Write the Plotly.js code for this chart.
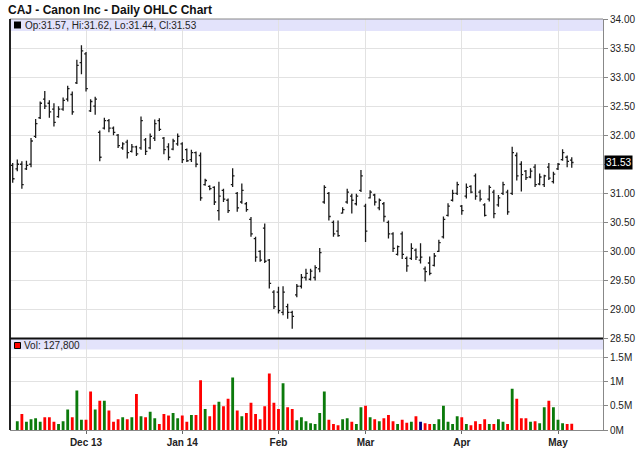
<!DOCTYPE html>
<html>
<head>
<meta charset="utf-8">
<script src="https://cdn.plot.ly/plotly-3.0.1.min.js"></script>
<style>html,body{margin:0;padding:0;background:#fff;}#chart{width:640px;height:468px;}</style>
</head>
<body>
<div id="chart"></div>
<script>
// ---- Data ----
const tickIndex = [16, 37, 58, 77, 98, 119];
const tickLabels = ['Dec 13', 'Jan 14', 'Feb', 'Mar', 'Apr', 'May'];
const priceTicks = [28.5, 29, 29.5, 30, 30.5, 31, 31.5, 32, 32.5, 33, 33.5, 34];

const openP = [
31.48,31.42,31.50,31.42,31.50,31.98,32.30,32.62,32.55,32.45,
32.32,32.45,32.62,32.70,32.90,33.25,33.40,32.42,32.50,32.05,
32.12,32.25,32.12,32.00,31.78,31.88,31.72,31.80,31.78,31.92,
31.78,31.95,32.25,31.95,31.80,31.76,31.85,31.85,31.75,31.58,
31.70,31.65,31.15,31.12,31.10,30.70,31.05,30.88,31.15,31.00,
30.85,30.82,30.55,30.22,30.00,30.40,29.85,29.30,29.30,28.95,
29.05,28.95,29.25,29.40,29.55,29.52,29.55,29.70,30.85,31.00,
30.50,30.35,30.66,30.85,30.95,30.82,31.05,30.78,30.92,30.97,
30.75,30.82,30.50,30.30,29.95,30.30,29.88,29.88,30.02,29.85,
29.70,29.80,29.76,30.00,30.25,30.62,30.88,31.00,30.78,30.95,
31.12,31.30,31.02,30.80,30.90,31.02,30.80,31.00,31.02,31.00,
31.65,31.50,31.38,31.28,31.45,31.16,31.15,31.45,31.20,31.42,
31.58,31.62,31.57];
const highP = [
31.52,31.58,31.55,31.56,31.95,32.28,32.58,32.76,32.60,32.55,
32.50,32.65,32.85,32.75,33.30,33.55,33.43,32.62,32.66,32.08,
32.30,32.28,32.15,32.02,31.88,31.92,31.85,31.82,32.32,31.95,
32.03,32.27,32.29,31.97,31.86,31.94,32.03,31.88,31.77,31.75,
31.72,31.70,31.25,31.14,31.12,31.20,31.08,30.91,31.43,31.02,
31.17,30.85,30.59,30.25,30.02,30.48,29.87,29.33,29.39,29.40,
29.10,28.98,29.44,29.61,29.70,29.70,29.76,30.06,31.14,31.02,
30.53,30.53,30.76,31.08,30.99,30.99,31.40,30.82,31.05,30.99,
30.91,30.85,30.53,30.33,30.10,30.34,29.91,30.14,30.05,30.14,
29.74,29.91,29.97,30.20,30.60,30.83,31.06,31.20,30.80,31.17,
31.14,31.34,31.06,30.83,31.14,31.06,30.97,31.20,31.06,31.80,
31.70,31.55,31.40,31.43,31.50,31.34,31.32,31.52,31.37,31.52,
31.76,31.65,31.62];
const lowP = [
31.18,31.38,31.08,31.40,31.45,31.95,32.28,32.45,32.30,32.15,
32.30,32.42,32.58,32.35,32.88,33.05,32.75,32.40,32.35,31.55,
32.10,32.05,32.00,31.78,31.75,31.60,31.70,31.64,31.75,31.66,
31.76,31.90,32.07,31.67,31.57,31.74,31.82,31.52,31.54,31.54,
31.45,30.87,31.13,31.05,30.80,30.53,30.85,30.66,31.11,30.68,
30.82,30.68,30.25,29.82,29.82,29.80,29.36,29.01,28.93,28.90,
28.84,28.67,29.21,29.36,29.50,29.50,29.50,29.64,30.82,30.53,
30.25,30.25,30.65,30.82,30.65,30.79,31.02,30.16,30.91,30.79,
30.71,30.51,30.22,29.99,29.93,29.87,29.65,29.85,29.85,29.79,
29.48,29.59,29.74,29.99,30.22,30.60,30.86,30.97,30.63,30.91,
31.00,30.89,30.86,30.60,30.86,30.57,30.77,30.97,30.63,30.97,
31.22,31.03,31.23,31.26,31.11,31.14,31.11,31.23,31.17,31.40,
31.56,31.45,31.44];
const closeP = [
31.25,31.50,31.15,31.48,31.90,32.20,32.55,32.50,32.40,32.22,
32.45,32.60,32.80,32.40,33.20,33.45,32.80,32.58,32.62,31.62,
32.25,32.12,32.05,31.82,31.85,31.70,31.80,31.68,32.25,31.72,
31.98,32.20,32.10,31.75,31.62,31.90,31.98,31.58,31.56,31.70,
31.50,30.92,31.22,31.08,30.85,30.95,30.90,30.70,31.30,30.75,
31.05,30.72,30.30,29.90,29.85,29.83,29.45,29.05,28.98,29.30,
28.95,28.88,29.40,29.55,29.62,29.66,29.72,29.98,31.10,30.60,
30.30,30.27,30.72,31.02,30.88,30.95,31.30,30.35,31.02,30.85,
30.88,30.60,30.30,30.05,30.08,29.95,29.75,30.05,29.90,29.90,
29.65,29.62,29.92,30.15,30.55,30.78,31.00,31.15,30.70,31.10,
31.02,30.95,30.90,30.62,31.10,30.65,30.92,31.15,30.68,31.70,
31.30,31.32,31.27,31.38,31.15,31.28,31.30,31.26,31.33,31.50,
31.70,31.55,31.53];
// volume in thousands of shares (first day has no volume bar)
const volumeK = [
null,180,330,170,220,240,170,260,260,170,125,
180,420,260,810,210,210,790,420,600,600,
400,170,220,260,220,260,740,280,260,375,
240,125,330,300,350,240,300,170,310,310,
1020,430,280,520,580,490,640,1080,400,280,
350,560,330,220,490,1160,560,430,960,470,
430,200,260,180,140,125,350,790,210,125,
100,220,240,170,125,470,500,260,220,180,
240,310,180,125,210,150,170,280,170,140,
125,125,220,500,170,125,280,260,125,100,
180,125,220,125,125,220,170,125,850,640,
240,240,170,180,140,470,600,470,210,140,
125,127.8];
// day-over-day change sign shown by volume bar colour: 1 up, -1 down, 0 unchanged
const changeSign = [
0, 1,-1, 1, 1, 1, 1,-1,-1,-1, 1,
 1, 1,-1, 1, 1,-1,-1, 1,-1, 1,
-1,-1,-1, 1,-1, 1,-1, 1,-1, 1,
 1,-1,-1,-1, 1, 1,-1,-1, 1,-1,
-1, 1,-1,-1, 1,-1,-1, 1,-1, 1,
-1,-1,-1,-1,-1,-1,-1,-1, 1,-1,
-1, 1, 1, 1, 1, 1, 1, 1,-1,-1,
-1, 1, 1,-1, 1, 1,-1, 1,-1, 1,
-1,-1,-1, 1,-1,-1, 1,-1, 0,-1,
-1, 1, 1, 1, 1, 1, 1,-1, 1,-1,
-1,-1,-1, 1,-1, 1, 1,-1, 1,-1,
-1,-1, 1,-1, 1, 1,-1, 1, 1, 1,
-1,-1];

// ---- Build chart ----
const xIdx = openP.map((_, i) => i);
const signColor = s => s > 0 ? '#0b7a0b' : (s < 0 ? '#ff0000' : '#000080');
const last = openP.length - 1;
const f2 = v => v.toFixed(2);
const legendText = 'Op:' + f2(openP[last]) + ', Hi:' + f2(highP[last]) + ', Lo:' + f2(lowP[last]) + ', Cl:' + f2(closeP[last]);
const volText = 'Vol: ' + Math.round(volumeK[last] * 1000).toLocaleString('en-US');
// the last-price flag covers the tick label next to it (as in the reference)
const priceTickText = priceTicks.map(v => Math.abs(v - closeP[last]) < 0.15 ? '' : f2(v));

const ohlc = {
  type: 'ohlc', x: xIdx, open: openP, high: highP, low: lowP, close: closeP,
  xaxis: 'x', yaxis: 'y', tickwidth: 0.4,
  increasing: {line: {color: '#1a1a1a', width: 1.3}},
  decreasing: {line: {color: '#1a1a1a', width: 1.3}},
  hoverinfo: 'skip'
};
const vol = {
  type: 'bar', x: xIdx, y: volumeK, xaxis: 'x2', yaxis: 'y2',
  marker: {color: changeSign.map(signColor), line: {width: 0}},
  width: 0.62, hoverinfo: 'skip'
};

const xr = [-0.59, 128.82];
const grid = '#e2e2e2';
const font = 'Liberation Sans, Arial, sans-serif';
const priceDomain = [0.2226, 1];
const volDomain = [0, 0.2226];

const layout = {
  width: 640, height: 468,
  margin: {l: 10, r: 37, t: 19, b: 38},
  paper_bgcolor: '#fff', plot_bgcolor: '#fff',
  showlegend: false,
  font: {family: font, size: 10, color: '#222'},
  title: {text: 'CAJ - Canon Inc - Daily OHLC Chart', x: 0.0125, xanchor: 'left', y: 0.979, yanchor: 'middle',
          font: {family: font, size: 12, weight: 'bold', color: '#111'}},
  xaxis: {domain: [0, 1], range: xr, anchor: 'y', tickmode: 'array', tickvals: tickIndex, showticklabels: false,
          ticks: '', showgrid: true, gridcolor: grid, zeroline: false, showline: false, rangeslider: {visible: false}},
  xaxis2: {domain: [0, 1], range: xr, anchor: 'y2', tickmode: 'array', tickvals: tickIndex, ticktext: tickLabels,
           ticks: 'outside', ticklen: 3, tickcolor: '#666', showgrid: true, gridcolor: grid, zeroline: false,
           showline: true, linecolor: '#888', tickfont: {family: font, size: 10, weight: 'bold', color: '#222'}},
  yaxis: {domain: priceDomain, range: [28.5, 34], tickmode: 'array', tickvals: priceTicks, ticktext: priceTickText,
          side: 'right', ticks: 'outside', ticklen: 4, tickcolor: '#888', showline: true, linecolor: '#888',
          showgrid: true, gridcolor: grid, zeroline: false, tickfont: {family: font, size: 10, color: '#222'}},
  yaxis2: {domain: volDomain, range: [0, 1880], tickmode: 'array', tickvals: [0, 500, 1000, 1500],
           ticktext: ['0M', '0.5M', '1M', '1.5M'], side: 'right', ticks: 'outside', ticklen: 4, tickcolor: '#888',
           showline: true, linecolor: '#888', showgrid: true, gridcolor: grid, zeroline: false,
           tickfont: {family: font, size: 10, color: '#222'}},
  shapes: [
    {type: 'rect', xref: 'paper', x0: 0, x1: 1, yref: 'y domain', ysizemode: 'pixel', yanchor: 1, y0: 0, y1: -12,
     fillcolor: '#e3e3fb', line: {width: 0}, layer: 'below'},
    {type: 'rect', xref: 'paper', x0: 0, x1: 1, yref: 'y2 domain', ysizemode: 'pixel', yanchor: 1, y0: 0, y1: -11,
     fillcolor: '#e3e3fb', line: {width: 0}, layer: 'below'},
    {type: 'rect', xref: 'paper', xsizemode: 'pixel', xanchor: 0, x0: 4, x1: 11,
     yref: 'y domain', ysizemode: 'pixel', yanchor: 1, y0: -2.5, y1: -9.5, fillcolor: '#000', line: {width: 0}},
    {type: 'rect', xref: 'paper', xsizemode: 'pixel', xanchor: 0, x0: 4.5, x1: 10.5,
     yref: 'y2 domain', ysizemode: 'pixel', yanchor: 1, y0: -4, y1: -10, fillcolor: '#ff0000', line: {width: 1, color: '#000'}},
    {type: 'line', xref: 'paper', x0: 0, x1: 1, yref: 'y domain', y0: 1, y1: 1, line: {color: '#888', width: 1}},
    {type: 'line', xref: 'paper', x0: 0, x1: 0, yref: 'paper', y0: 0, y1: 1, line: {color: '#222', width: 2}},
    {type: 'line', xref: 'paper', x0: 0, x1: 1, yref: 'y domain', y0: 0, y1: 0, line: {color: '#111', width: 2}}
  ],
  annotations: [
    {xref: 'paper', x: 0, xshift: 13, xanchor: 'left', yref: 'y domain', y: 1, yshift: -6, yanchor: 'middle',
     text: legendText, showarrow: false, font: {family: font, size: 10, color: '#222'}},
    {xref: 'paper', x: 0, xshift: 12, xanchor: 'left', yref: 'y2 domain', y: 1, yshift: -7, yanchor: 'middle',
     text: volText, showarrow: false, font: {family: font, size: 10, color: '#222'}},
    {xref: 'paper', x: 1, xshift: 1, xanchor: 'left', yref: 'y', y: closeP[last], yanchor: 'middle',
     text: f2(closeP[last]), showarrow: false, bgcolor: '#000', borderpad: 1,
     font: {family: font, size: 10, color: '#fff'}}
  ]
};

Plotly.newPlot('chart', [ohlc, vol], layout, {staticPlot: true, displayModeBar: false});
</script>
</body>
</html>
